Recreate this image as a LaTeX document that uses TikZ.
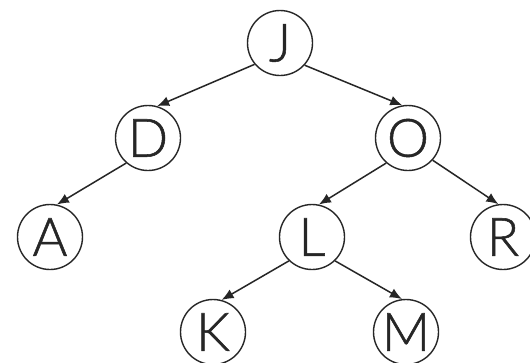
\documentclass[tikz,border=0pt]{standalone}
\usepackage{fontspec}
\newfontfamily\nodefont{Lato Light}[FakeBold=1]
\usetikzlibrary{arrows.meta}
\begin{document}
\begin{tikzpicture}[x=1pt,y=-1pt,
  tnode/.style={circle,draw=black!85,line width=1.4pt,minimum size=65pt,inner sep=0pt,
    font=\nodefont\fontsize{53}{58}\selectfont,text=black!85},
  edge/.style={draw=black!85,line width=1.5pt,-{Latex[length=12pt,width=10pt]}}]
\useasboundingbox[fill=white] (0,0) rectangle (530,362);
\node[tnode] (J) at (280,43) {J};
\node[tnode] (D) at (148,138) {D};
\node[tnode] (O) at (408,138) {O};
\node[tnode] (A) at (50,237) {A};
\node[tnode] (L) at (312,237) {L};
\node[tnode] (R) at (503,237) {R};
\node[tnode] (K) at (213,332) {K};
\node[tnode] (M) at (406,332) {M};
\draw[edge] (J.220) -- (D.74);
\draw[edge] (J.318) -- (O.100);
\draw[edge] (D.229) -- (A.78);
\draw[edge] (O.229) -- (L.78);
\draw[edge] (O.318) -- (R.98);
\draw[edge] (L.226) -- (K.75);
\draw[edge] (L.314) -- (M.97);
\end{tikzpicture}
\end{document}
